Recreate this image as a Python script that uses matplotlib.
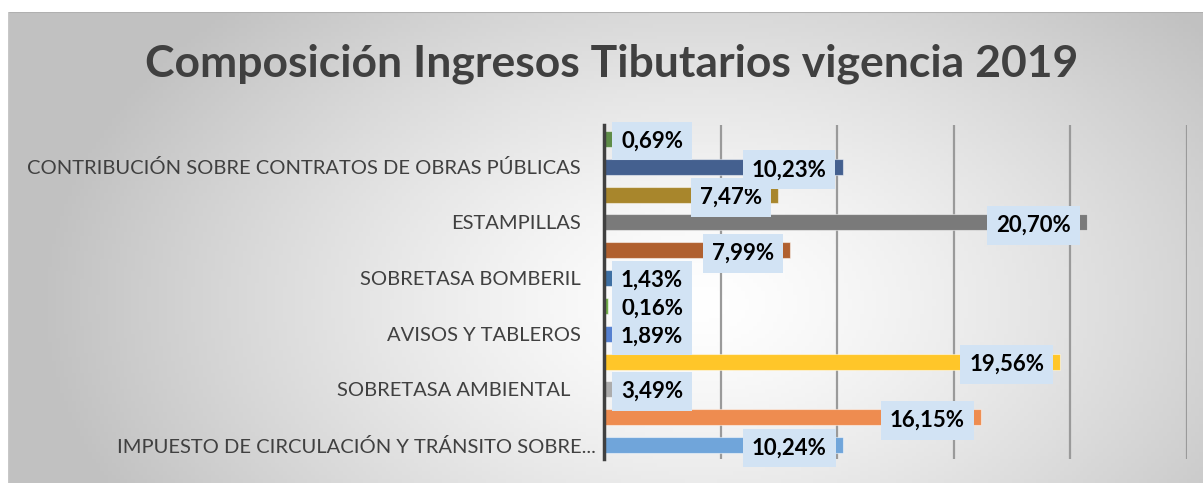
import numpy as np
import matplotlib.pyplot as plt

# data, listed from the bottom bar to the top bar
labels = ['IMPUESTO DE CIRCULACIÓN Y TRÁNSITO SOBRE...', '',
          'SOBRETASA AMBIENTAL  ', '',
          'AVISOS Y TABLEROS', '',
          'SOBRETASA BOMBERIL', '',
          'ESTAMPILLAS', '',
          'CONTRIBUCIÓN SOBRE CONTRATOS DE OBRAS PÚBLICAS', '']
values = [10.24, 16.15, 3.49, 19.56, 1.89, 0.16, 1.43, 7.99, 20.70, 7.47, 10.23, 0.69]
colors = ['#70a5da', '#ee8c50', '#acacac', '#ffc629', '#5580d0', '#70ad47',
          '#3d6fa3', '#b0602f', '#7a7a7a', '#a8862c', '#44608f', '#5e8c48']
title = 'Composición Ingresos Tibutarios vigencia 2019'


def make_bg(w, h):
    # radial-ish gray gradient like the excel chart area
    xx, yy = np.meshgrid(np.linspace(0, 1, w), np.linspace(0, 1, h))
    d = np.sqrt(((xx - 0.58) / 0.55)**2 + ((yy - 0.62) / 0.9)**2)
    v = 1.0 - 0.24*np.clip(d, 0, 1)**1.3
    return np.dstack([v, v, v])


def main():
    W, H = 1203, 483
    fig = plt.figure(figsize=(W/100, H/100), dpi=100)
    fig.patch.set_facecolor('white')

    ## background
    bg = fig.add_axes([8/W, 0, 1 - 8/W, (H - 12)/H])
    bg.imshow(make_bg(300, 120), aspect='auto', extent=[0, 1, 0, 1], origin='upper')
    bg.set_xlim(0, 1)
    bg.set_ylim(0, 1)
    bg.axis('off')
    bg.plot([0, 1], [1, 1], color='#b0b0b0', lw=1.5)
    bg.plot([0, 0], [0, 1], color='#c8c8c8', lw=1.0)

    fig.text(612/W, 1 - 64/H, title, ha='center', va='center',
             fontsize=32, fontweight='bold', color='#404040', family='Lato')

    ## bars
    x0, x1 = 604, 1187
    top, bot = 125, 459
    ax = fig.add_axes([x0/W, 1 - bot/H, (x1 - x0)/W, (bot - top)/H])
    ax.patch.set_alpha(0)
    y = np.arange(len(values))
    ax.barh(y, values, height=0.58, color=colors, edgecolor=(1, 1, 1, 0.5),
            linewidth=0.8, zorder=3)
    ax.set_xlim(0, 25)
    ax.set_ylim(-0.5, len(values) - 0.5)
    ax.set_xticks([5, 10, 15, 20, 25])
    ax.xaxis.grid(True, color='#9a9a9a', lw=1.6, zorder=1)
    ax.tick_params(axis='x', length=0, labelbottom=False)
    ax.tick_params(axis='y', length=0, pad=17)
    ax.set_yticks(y)
    ax.set_yticklabels(labels, fontsize=14.5, color='#404040', family='Lato')
    # the truncated label sits closer to the axis
    ax.yaxis.get_major_ticks()[0].set_pad(6)
    for s in ['top', 'right', 'bottom']:
        ax.spines[s].set_visible(False)
    ax.spines['left'].set_color('#404040')
    ax.spines['left'].set_linewidth(2.5)
    ax.spines['left'].set_zorder(5)

    box = dict(boxstyle='square,pad=0.4', facecolor='#d2e3f4', edgecolor='none')
    for yi, v in zip(y, values):
        txt = f'{v:.2f}%'.replace('.', ',')
        if v < 5:
            ax.annotate(txt, (0, yi), xytext=(17, -2), textcoords='offset pixels',
                        ha='left', va='center', fontsize=16, fontweight='bold',
                        family='Lato', bbox=box, zorder=6)
        else:
            ax.annotate(txt, (v, yi), xytext=(-16, -3), textcoords='offset pixels',
                        ha='right', va='center', fontsize=16, fontweight='bold',
                        family='Lato', bbox=box, zorder=6)

    fig.savefig('out.png', dpi=100)
    plt.close()


if __name__ == "__main__":
    main()
